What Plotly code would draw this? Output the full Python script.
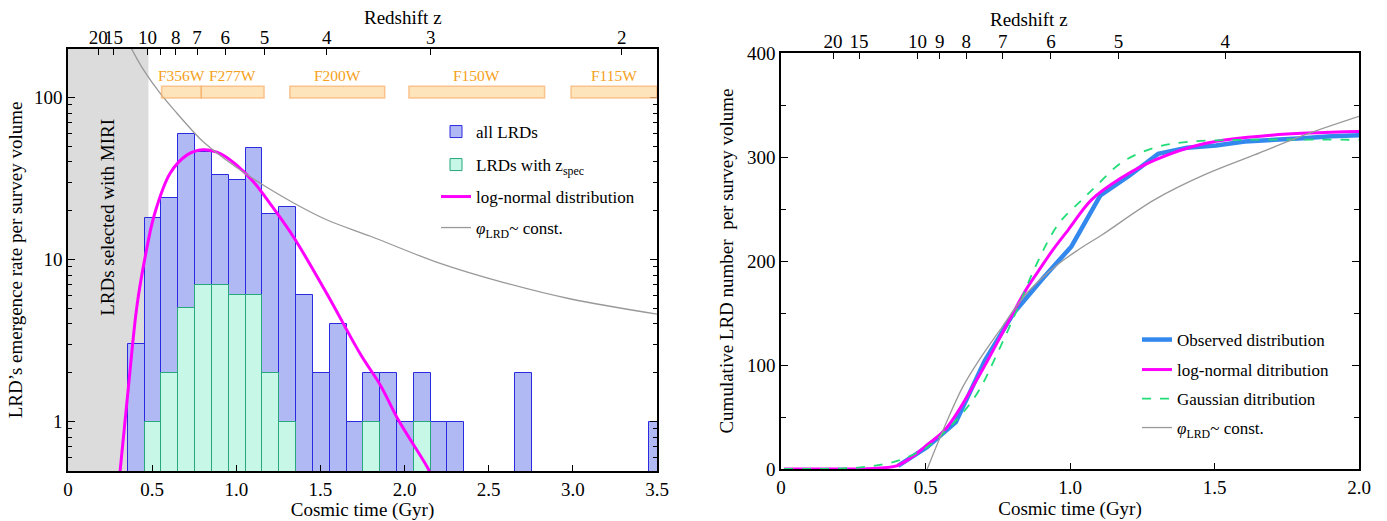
import plotly.graph_objects as go

# ---------------- data ----------------
# left panel: histogram, bin width 0.1 Gyr
bin_centers = [0.405, 0.505, 0.605, 0.705, 0.805, 0.905, 1.005, 1.105, 1.205, 1.305,
               1.405, 1.505, 1.605, 1.705, 1.805, 1.905, 2.005, 2.105, 2.205, 2.305,
               2.405, 2.505, 2.605, 2.705, 2.805, 2.905, 3.005, 3.105, 3.205, 3.305,
               3.405, 3.505]
bin_width = 0.1
all_lrds = [3, 18, 24, 59, 46, 33, 31, 49, 19, 21,
            6, 2, 4, 1, 2, 2, 1, 2, 1, 1,
            None, None, None, 2, None, None, None, None, None, None,
            None, 1]
spec_lrds = [None, 1, 2, 5, 7, 7, 6, 6, 2, 1,
             None, None, None, None, 1, None, None, 1, None, None,
             None, None, None, None, None, None, None, None, None, None,
             None, None]

lognorm_t = [0.30, 0.31, 0.359, 0.409, 0.458, 0.514, 0.607, 0.706, 0.80, 0.905,
             1.004, 1.103, 1.202, 1.341, 1.54, 1.738, 1.857, 1.966, 2.145, 2.16]
lognorm_v = [0.40, 0.5, 1.63, 5.1, 10.3, 19.0, 34.0, 44.0, 47.5, 45.0,
             38.0, 30.0, 22.0, 13.7, 6.1, 2.6, 1.67, 1.01, 0.5, 0.45]

const_t = [0.36, 0.378, 0.45, 0.547, 0.646, 0.741, 0.805, 1.0, 1.143, 1.341,
           1.54, 1.798, 2.194, 2.59, 2.988, 3.5]
const_v = [217, 199, 147, 106, 80, 62, 53, 37, 29.5, 22.3,
           17.5, 13.9, 9.6, 7.2, 5.7, 4.6]

# redshift tick positions (cosmic age in Gyr) and labels
z_age_left = [0.180, 0.270, 0.472, 0.641, 0.767, 0.934, 1.168, 1.537, 2.156, 3.29]
z_lab_left = ["20", "15", "10", "8", "7", "6", "5", "4", "3", "2"]
z_age_left_unlabelled = [0.549]
z_age_right = [0.180, 0.270, 0.472, 0.549, 0.641, 0.767, 0.934, 1.168, 1.537]
z_lab_right = ["20", "15", "10", "9", "8", "7", "6", "5", "4"]

miri_tmax = 0.478
filters = ["F356W", "F277W", "F200W", "F150W", "F115W"]
filter_t0 = [0.556, 0.792, 1.318, 2.026, 2.989]
filter_t1 = [0.792, 1.165, 1.882, 2.832, 3.55]

# right panel: cumulative numbers
obs_t = [0.405, 0.505, 0.605, 0.705, 0.805, 0.905, 1.005, 1.105, 1.205, 1.305,
         1.405, 1.505, 1.605, 1.705, 1.805, 1.905, 2.005]
obs_n = [3, 21, 45, 104, 150, 183, 214, 263, 282, 303,
         309, 311, 315, 316, 318, 320, 321]

lncum_t = [0.01, 0.2, 0.3, 0.342, 0.40, 0.456, 0.50, 0.571, 0.686, 0.778,
           0.847, 0.89, 0.939, 0.994, 1.075, 1.178, 1.293, 1.466, 1.697, 2.0]
lncum_n = [0, 0, 0.3, 1, 3, 12, 22, 39, 90, 137,
           172, 190, 210, 230, 259, 280, 297, 313, 321, 324.5]

gcum_t = [0.01, 0.15, 0.25, 0.307, 0.342, 0.405, 0.50, 0.571, 0.629, 0.686,
          0.743, 0.812, 0.881, 0.961, 1.042, 1.094, 1.18, 1.293, 1.408, 1.58, 2.0]
gcum_n = [0, 0.2, 1, 2.5, 4, 8, 20, 37, 54, 76,
          108, 150, 195, 236, 259, 273, 295, 309, 314.5, 316.5, 316.5]

ccum_t = [0.506, 0.571, 0.629, 0.686, 0.766, 0.847, 0.95, 1.03, 1.11, 1.293,
          1.466, 1.638, 1.81, 2.0]
ccum_n = [0, 44, 79, 105, 137, 168, 195, 211, 225, 259,
          283, 302, 321, 339]

# ---------------- figure ----------------
FONT = "Liberation Serif"
fig = go.Figure()

fig.add_trace(go.Bar(x=bin_centers, y=all_lrds, width=bin_width, name="all LRDs",
                     marker=dict(color="#b1b9f5", line=dict(color="#2a2ae0", width=1)),
                     xaxis="x", yaxis="y", legend="legend"))
fig.add_trace(go.Bar(x=bin_centers, y=spec_lrds, width=bin_width,
                     name="LRDs with z<sub>spec</sub>",
                     marker=dict(color="#c7f7e7", line=dict(color="#27a77c", width=1)),
                     xaxis="x", yaxis="y", legend="legend2"))
fig.add_trace(go.Scatter(x=lognorm_t, y=lognorm_v, mode="lines", name="log-normal distribution",
                         line=dict(color="#ff00ff", width=3, shape="spline"),
                         xaxis="x", yaxis="y", legend="legend3"))
fig.add_trace(go.Scatter(x=const_t, y=const_v, mode="lines",
                         name="<i>φ</i><sub>LRD</sub>~ const.",
                         line=dict(color="#999999", width=1.3, shape="spline"),
                         xaxis="x", yaxis="y", legend="legend4"))
# anchor for the top redshift axis of the left panel
fig.add_trace(go.Scatter(x=[0, 3.5], y=[1, 1], mode="markers", marker=dict(opacity=0),
                         xaxis="x3", yaxis="y", showlegend=False, hoverinfo="skip"))

# right panel
fig.add_trace(go.Scatter(x=obs_t, y=obs_n, mode="lines", name="Observed distribution",
                         line=dict(color="#3388ee", width=4.5),
                         xaxis="x2", yaxis="y2", legend="legend5"))
fig.add_trace(go.Scatter(x=lncum_t, y=lncum_n, mode="lines", name="log-normal ditribution",
                         line=dict(color="#ff00ff", width=3, shape="spline"),
                         xaxis="x2", yaxis="y2", legend="legend6"))
fig.add_trace(go.Scatter(x=gcum_t, y=gcum_n, mode="lines", name="Gaussian ditribution",
                         line=dict(color="#22dd77", width=1.8, dash="dash", shape="spline"),
                         xaxis="x2", yaxis="y2", legend="legend7"))
fig.add_trace(go.Scatter(x=ccum_t, y=ccum_n, mode="lines",
                         name="<i>φ</i><sub>LRD</sub>~ const.",
                         line=dict(color="#999999", width=1.3, shape="spline"),
                         xaxis="x2", yaxis="y2", legend="legend8"))
fig.add_trace(go.Scatter(x=[0, 2], y=[0, 0], mode="markers", marker=dict(opacity=0),
                         xaxis="x4", yaxis="y2", showlegend=False, hoverinfo="skip"))

W, H = 1387, 521
L_dom_x = [68 / W, 657 / W]
L_dom_y = [(H - 471) / H, (H - 49) / H]
R_dom_x = [781 / W, 1359 / W]
R_dom_y = [(H - 469) / H, (H - 53) / H]

tickfont = dict(family=FONT, size=19, color="black")
titlefont = dict(family=FONT, size=19, color="black")
common = dict(showgrid=False, zeroline=False, ticks="inside", tickcolor="black",
              tickfont=tickfont, linecolor="black", linewidth=1.5, automargin=False,
              tickangle=0)

minor_log = [0.6, 0.7, 0.8, 0.9, 2, 3, 4, 5, 6, 7, 8, 9,
             20, 30, 40, 50, 60, 70, 80, 90]

shapes = [dict(type="rect", xref="x", yref="y domain", x0=0, x1=miri_tmax, y0=0, y1=1,
               fillcolor="#dcdcdc", line=dict(width=0), layer="below")]
annotations = [
    dict(text="LRDs selected with MIRI", x=0.238, xref="x", y=0.60, yref="y domain",
         textangle=-90, showarrow=False, font=dict(family=FONT, size=19, color="black")),
    dict(text="Redshift z", x=(L_dom_x[0] + L_dom_x[1]) / 2, xref="paper",
         y=1 - 17 / H, yref="paper", yanchor="middle", showarrow=False, font=titlefont),
    dict(text="Redshift z", x=(R_dom_x[0] + R_dom_x[1]) / 2, xref="paper",
         y=1 - 19 / H, yref="paper", yanchor="middle", showarrow=False, font=titlefont),
]
for name, t0, t1 in zip(filters, filter_t0, filter_t1):
    shapes.append(dict(type="rect", xref="x", yref="y domain", x0=t0, x1=min(t1, 3.5),
                       y0=0.884, y1=0.912, fillcolor="rgba(253,205,130,0.55)",
                       line=dict(color="rgba(248,175,110,0.7)", width=1.5)))
    annotations.append(dict(text=name, x=(t0 + min(t1, 3.5)) / 2, xref="x", y=0.937,
                            yref="y domain", yanchor="middle", showarrow=False,
                            font=dict(family=FONT, size=15.5, color="#f5a020")))


def leg(x_px, y_px):
    return dict(x=x_px / W, y=1 - y_px / H, xanchor="left", yanchor="middle",
                bgcolor="rgba(0,0,0,0)", font=dict(family=FONT, size=17, color="black"))


fig.update_layout(
    width=W, height=H, margin=dict(l=0, r=0, t=0, b=0),
    paper_bgcolor="white", plot_bgcolor="white",
    barmode="overlay", bargap=0,
    font=dict(family=FONT, size=16, color="black"),
    xaxis=dict(domain=L_dom_x, range=[0, 3.5], anchor="y",
               tickvals=[0, 0.5, 1.0, 1.5, 2.0, 2.5, 3.0, 3.5],
               ticktext=["0", "0.5", "1.0", "1.5", "2.0", "2.5", "3.0", "3.5"],
               ticklen=6, showline=True, mirror=True,
               title=dict(text="Cosmic time (Gyr)", font=titlefont, standoff=0), **common),
    yaxis=dict(domain=L_dom_y, type="log", range=[-0.305, 2.298], anchor="x",
               tickvals=[1, 10, 100], ticktext=["1", "10", "100"],
               ticklen=7, showline=True, mirror="ticks",
               minor=dict(tickvals=minor_log, ticks="inside", ticklen=4, tickcolor="black"),
               title=dict(text="LRD’s emergence rate per survey volume", font=titlefont, standoff=6),
               **common),
    xaxis3=dict(overlaying="x", side="top", anchor="y", range=[0, 3.5],
                tickvals=z_age_left, ticktext=z_lab_left, ticklen=6, showline=False,
                minor=dict(tickvals=z_age_left_unlabelled, ticks="inside", ticklen=6,
                           tickcolor="black"),
                **common),
    xaxis2=dict(domain=R_dom_x, range=[0, 2], anchor="y2",
                tickvals=[0, 0.5, 1.0, 1.5, 2.0], ticktext=["0", "0.5", "1.0", "1.5", "2.0"],
                ticklen=6, showline=True, mirror=True,
                title=dict(text="Cosmic time (Gyr)", font=titlefont, standoff=0), **common),
    yaxis2=dict(domain=R_dom_y, range=[0, 400], anchor="x2",
                tickvals=[0, 100, 200, 300, 400], ticklen=7, showline=True, mirror="ticks",
                minor=dict(tickvals=[50, 150, 250, 350], ticks="inside", ticklen=5,
                           tickcolor="black"),
                title=dict(text="Cumulative LRD number  per survey volume", font=titlefont,
                           standoff=8),
                **common),
    xaxis4=dict(overlaying="x2", side="top", anchor="y2", range=[0, 2],
                tickvals=z_age_right, ticktext=z_lab_right, ticklen=6, showline=False,
                **common),
    legend=leg(436, 132), legend2=leg(436, 165), legend3=leg(436, 197), legend4=leg(436, 228),
    legend5=leg(1137, 340), legend6=leg(1137, 370), legend7=leg(1137, 399),
    legend8=leg(1137, 428),
    shapes=shapes, annotations=annotations,
)

fig.write_html("out.html", config={"displayModeBar": False})

# remove the browser's default page margin so the figure starts at the window corner
with open("out.html", "r", encoding="utf-8") as f:
    html = f.read()
html = html.replace("<head>", "<head><style>html,body{margin:0;padding:0;overflow:hidden;}</style>", 1)
with open("out.html", "w", encoding="utf-8") as f:
    f.write(html)
